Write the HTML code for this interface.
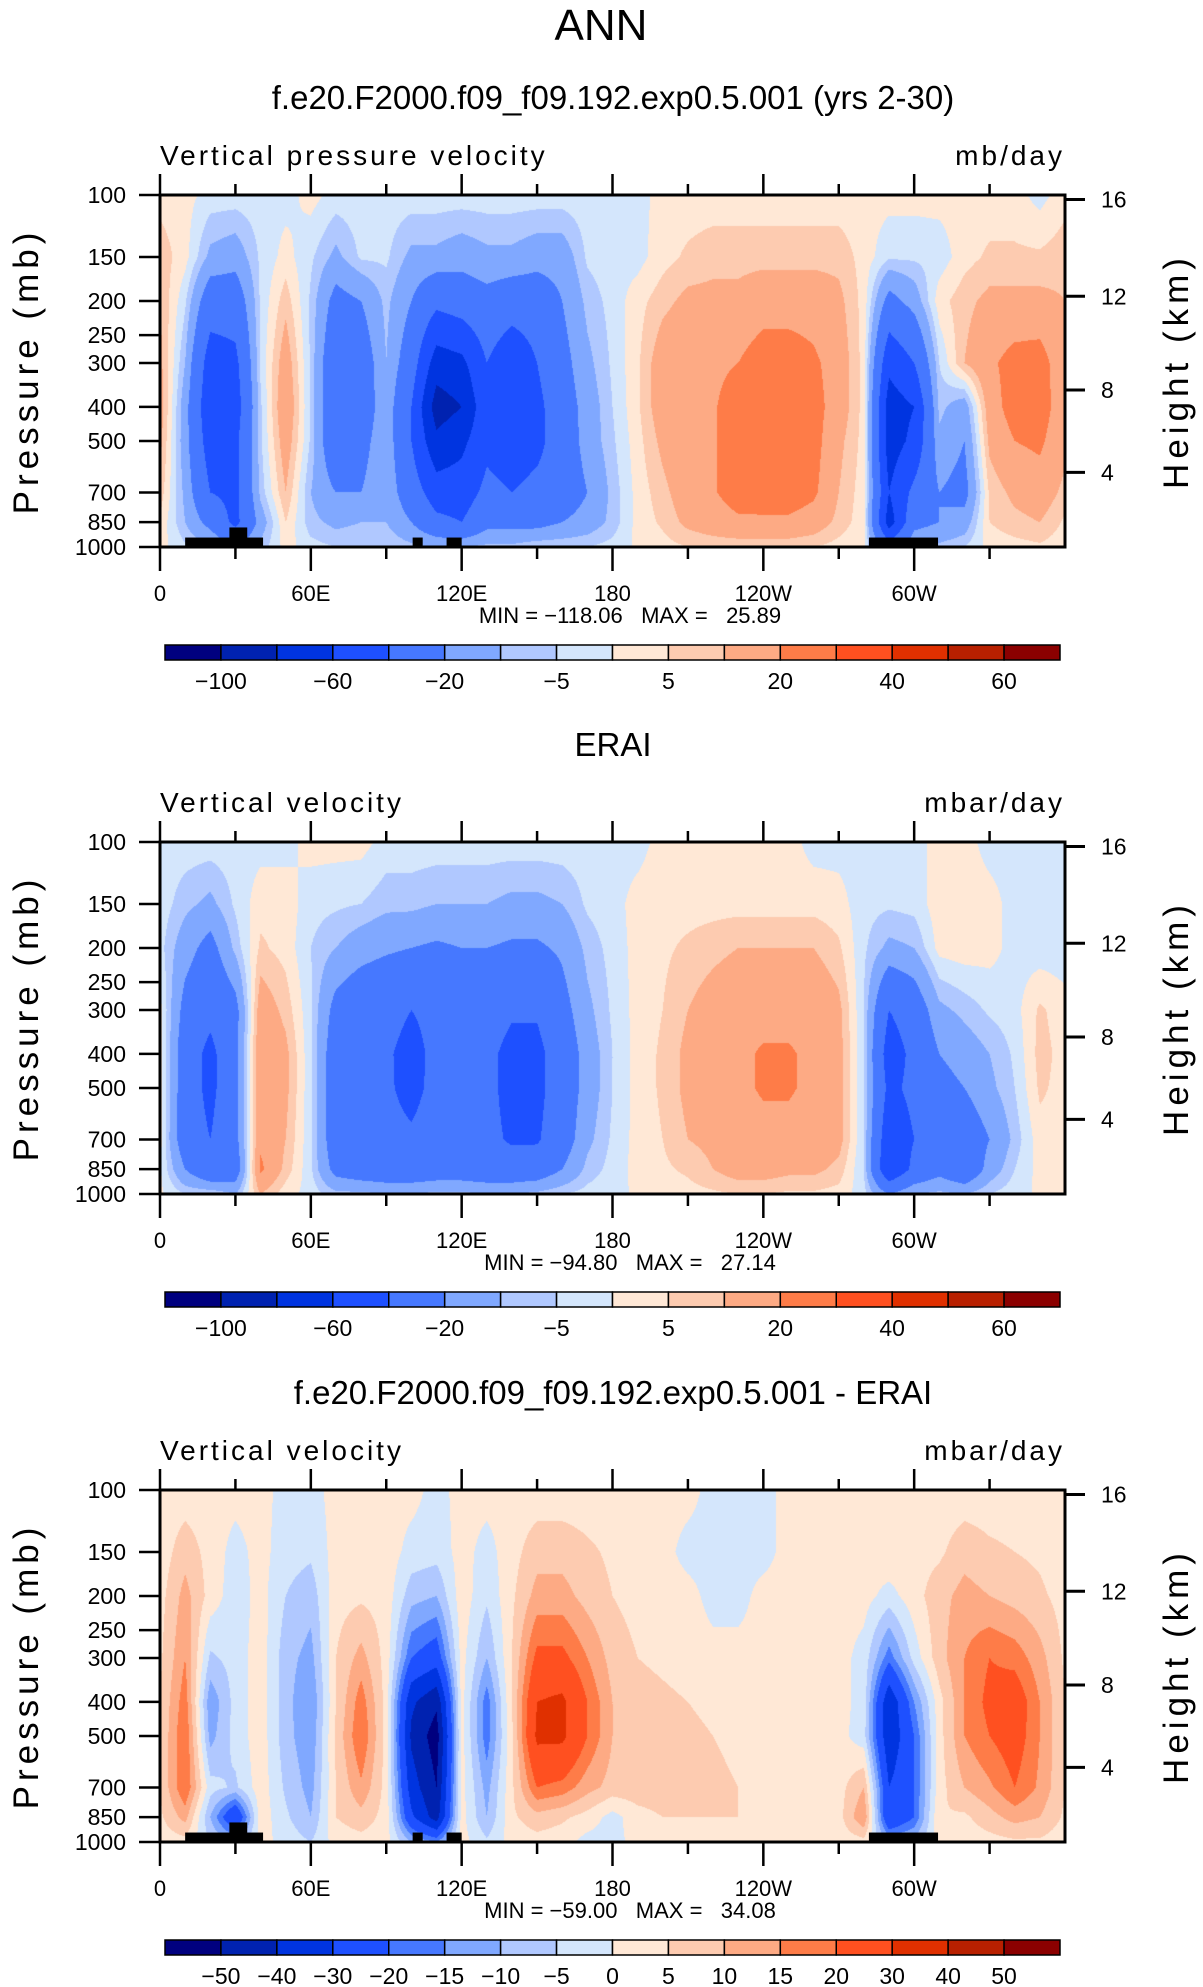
<!DOCTYPE html>
<html><head><meta charset="utf-8"><style>
body{margin:0;background:#fff}
#wrap{position:relative;width:1203px;height:1987px;overflow:hidden;background:#fff}
canvas{position:absolute}
svg{position:absolute;left:0;top:0}
text{font-family:"Liberation Sans",sans-serif;fill:#000}
</style></head><body>
<div id="wrap">
<canvas id="c0" width="905" height="352" style="left:160px;top:195px"></canvas>
<canvas id="c1" width="905" height="352" style="left:160px;top:842px"></canvas>
<canvas id="c2" width="905" height="352" style="left:160px;top:1490px"></canvas>
<svg id="ov" width="1203" height="1987"></svg>
</div>
<script>
const LON=[0,10,20,30,40,50,60,70,80,90,100,110,120,130,140,150,160,170,180,190,200,210,220,230,240,250,260,270,280,290,300,310,320,330,340,350,360];
const PLEV=[100,150,200,300,400,500,700,850,1000];
const PTICKS=[100,150,200,250,300,400,500,700,850,1000];
const HTICK_LABELS=[16,12,8,4];
const HTICK_P=[103,194,358,614];
const XTICK_LON=[0,60,120,180,240,300];
const XTICK_LABELS=["0","60E","120E","180","120W","60W"];
const COLORS=["#00007f","#0022b0","#0034e0","#1e50ff","#4678ff","#80a8ff","#b0c8ff","#d4e6fc","#ffe8d6","#fdcbb0","#fdaa84","#fe7c48","#ff5020","#e03000","#b82000","#8b0000"];
const LEVELS_AB=[-100,-80,-60,-40,-20,-10,-5,0,5,10,20,30,40,50,60];
const CB_LABELS_AB=["-100","","-60","","-20","","-5","","5","","20","","40","","60"];
const LEVELS_D=[-50,-40,-30,-20,-15,-10,-5,0,5,10,15,20,30,40,50];
const CB_LABELS_D=["-50","-40","-30","-20","-15","-10","-5","0","5","10","15","20","30","40","50"];
const MODEL=[
[3,2,-2,-2,-2,-2,2,-2,-2,-2,-2,-2,-2,-2,-2,-2,-2,-2,-2,-2,2,2,2,2,2,2,2,2,2,2,2,2,2,2,2,-2,3],
[8,2,-12,-15,-4,2,-4,-12,-4,-4,-12,-12,-15,-12,-12,-15,-15,-4,-2,-2,3,6,8,8,8,8,8,8,3,-4,-4,-3,3,6,6,6,8],
[10,-4,-30,-30,-4,8,-6,-25,-20,-8,-20,-35,-30,-25,-30,-30,-20,-8,-3,3,8,12,12,12,15,15,15,12,3,-25,-15,3,8,12,12,12,10],
[12,-10,-50,-45,-4,15,-6,-35,-30,-10,-30,-70,-65,-40,-55,-40,-25,-12,-4,4,15,18,18,20,26,26,22,15,3,-55,-40,-5,10,18,24,25,12],
[14,-15,-55,-50,-6,18,-6,-35,-30,-12,-40,-90,-80,-45,-60,-45,-28,-15,-5,4,15,18,19,25,27,27,24,15,3,-70,-60,-8,-15,15,25,25,14],
[12,-15,-50,-45,-6,15,-6,-35,-25,-12,-40,-75,-65,-45,-50,-45,-30,-15,-6,3,12,18,19,26,27,27,24,12,3,-70,-55,-12,-20,12,20,22,12],
[8,-12,-40,-45,-8,10,-10,-20,-20,-12,-30,-50,-50,-35,-40,-35,-30,-20,-8,2,8,15,19,25,26,26,22,10,2,-60,-35,-20,-25,6,12,15,8],
[4,-10,-25,-45,-15,5,-8,-12,-10,-10,-20,-35,-40,-25,-25,-25,-20,-15,-8,2,6,12,15,18,18,18,15,8,2,-70,-25,-20,-15,5,8,10,4],
[2,-4,-8,-20,-8,2,-3,-5,-5,-5,-8,-10,-10,-8,-8,-5,-5,-5,-3,1,3,5,6,6,6,6,5,3,1,-30,-10,-8,-5,2,3,4,2]];
const ERAI=[
[-2,-2,-2,-2,-2,-2,2,2,2,-2,-2,-2,-2,-2,-2,-2,-2,-2,-2,-2,2,2,2,2,2,2,-2,-2,-2,-2,-2,2,2,-2,-2,-2,-2],
[-2,-8,-12,-4,3,3,-3,-4,-5,-8,-8,-10,-10,-10,-12,-12,-10,-4,-2,2,3,3,3,3,3,3,3,2,-3,-4,-3,3,3,2,-2,-2,-2],
[-3,-15,-25,-8,6,3,-5,-10,-15,-18,-20,-22,-20,-20,-22,-22,-18,-8,-3,2,4,6,8,10,10,10,10,6,-4,-12,-10,2,3,2,-2,-3,-3],
[2,-25,-35,-25,15,8,-4,-25,-32,-35,-40,-36,-32,-32,-38,-38,-25,-12,-4,2,5,10,14,17,17,17,17,12,-5,-40,-30,-12,-8,-4,-2,6,2],
[3,-30,-45,-25,18,12,-4,-30,-35,-38,-45,-36,-34,-36,-45,-45,-30,-15,-5,2,6,12,15,18,21,21,18,13,-5,-50,-35,-20,-15,-10,-4,7,3],
[3,-30,-45,-25,18,12,-4,-30,-35,-38,-44,-36,-34,-36,-45,-45,-30,-15,-5,2,6,12,15,18,21,21,18,13,-5,-45,-35,-25,-20,-12,-5,6,3],
[2,-30,-40,-25,18,10,-4,-30,-34,-36,-38,-34,-34,-36,-42,-42,-28,-12,-4,2,5,10,12,16,17,17,16,13,-5,-55,-40,-30,-30,-20,-8,3,2],
[1,-20,-35,-30,22,8,-4,-25,-30,-32,-32,-30,-30,-32,-32,-30,-20,-8,-3,2,4,6,10,14,14,12,12,8,-5,-60,-35,-25,-35,-15,-5,2,1],
[1,-5,-5,-10,10,2,-2,-8,-8,-10,-10,-8,-8,-10,-10,-8,-5,-3,-2,1,2,3,4,5,5,4,4,3,-3,-20,-10,-8,-10,-5,-2,1,1]];
const DIFF=[
[2,2,2,2,2,-2,-2,2,2,2,2,-2,2,2,2,2,2,2,2,2,2,2,-2,-2,-2,2,2,2,2,2,2,2,2,2,2,2,2],
[2,8,3,-2,2,-3,-4,2,2,3,-2,-3,2,-2,3,8,8,6,4,3,2,-2,-2,-2,-2,2,2,2,2,4,3,4,8,6,5,4,2],
[3,12,3,-3,2,-5,-8,3,4,3,-8,-10,3,-4,4,12,12,8,5,3,3,2,-2,-2,2,2,2,2,2,-2,3,8,12,10,8,6,3],
[4,15,-6,-3,3,-8,-12,5,12,3,-20,-25,2,-10,5,22,22,15,8,5,4,3,2,2,2,2,2,2,-2,-18,-3,8,15,20,18,12,4],
[5,18,-14,-3,3,-8,-15,5,18,3,-38,-48,2,-18,5,30,32,20,10,7,6,5,4,3,3,3,2,2,-2,-38,-15,3,15,22,25,15,5],
[5,20,-12,-3,3,-8,-14,6,20,3,-42,-55,2,-18,4,32,32,20,10,8,7,6,5,4,4,3,3,2,-3,-38,-20,3,15,20,24,15,5],
[5,20,-3,-6,3,-6,-12,5,14,3,-35,-50,2,-12,4,20,18,12,8,8,8,8,6,5,5,5,4,3,10,-30,-20,3,10,14,20,14,5],
[4,12,-10,-30,3,-4,-10,5,8,3,-28,-45,2,-10,4,8,6,3,-2,3,5,5,5,5,4,4,3,3,15,-30,-20,5,4,8,12,10,4],
[2,3,-5,-10,2,-2,-5,2,3,2,-10,-15,2,-4,2,3,2,-2,-2,2,2,2,2,2,2,2,2,2,3,-10,-8,2,2,3,4,4,2]];
const LAND_LON0=[10,27.6,100.5,114,282];
const LAND_LON1=[41,34.7,104.5,120,309.5];
const LAND_PTOP=[940,880,940,940,940];

const L=160,W=905,H=352;
const PANELS=[
 {top:195,cv:"c0",data:MODEL,levels:LEVELS_AB,cbl:CB_LABELS_AB,title:"f.e20.F2000.f09_f09.192.exp0.5.001 (yrs 2-30)",sub:"Vertical pressure velocity",unit:"mb/day",minmax:"MIN = \u2212118.06   MAX =   25.89",land:true,key:"model"},
 {top:842,cv:"c1",data:ERAI,levels:LEVELS_AB,cbl:CB_LABELS_AB,title:"ERAI",sub:"Vertical velocity",unit:"mbar/day",minmax:"MIN = \u221294.80   MAX =   27.14",land:false,key:"erai"},
 {top:1490,cv:"c2",data:DIFF,levels:LEVELS_D,cbl:CB_LABELS_D,title:"f.e20.F2000.f09_f09.192.exp0.5.001 - ERAI",sub:"Vertical velocity",unit:"mbar/day",minmax:"MIN = \u221259.00   MAX =   34.08",land:true,key:"diff"}];

function xScale(lon){return L+lon/360*W;}
function yScale(p,top){return top+(Math.log10(p)-2)*H;}
function sample(g,lon,p){
 let i=Math.min(LON.length-2,Math.floor(lon/10));let t=(lon-LON[i])/10;
 let lp=Math.log10(p);let j=0;while(j<PLEV.length-2&&p>PLEV[j+1])j++;
 let a=Math.log10(PLEV[j]),b=Math.log10(PLEV[j+1]);let s=(lp-a)/(b-a);
 const v0=g[j][i]*(1-t)+g[j][i+1]*t, v1=g[j+1][i]*(1-t)+g[j+1][i+1]*t;
 return v0*(1-s)+v1*s;}
function colorIdx(v,lev){let k=0;while(k<lev.length&&v>=lev[k])k++;return k;}
function hex(c){return [parseInt(c.substr(1,2),16),parseInt(c.substr(3,2),16),parseInt(c.substr(5,2),16)];}
const RGB=COLORS.map(hex);
const NS="http://www.w3.org/2000/svg";const ov=document.getElementById("ov");
function mk(tag,attrs,txt){const e=document.createElementNS(NS,tag);for(const k in attrs)e.setAttribute(k,attrs[k]);if(txt!==undefined)e.textContent=txt;ov.appendChild(e);return e;}

let e=mk("text",{x:601,y:40,"font-size":44,"text-anchor":"middle","font-weight":"300"},"ANN");



PANELS.forEach(P=>{
 const cv=document.getElementById(P.cv),ctx=cv.getContext("2d"),img=ctx.createImageData(W,H);
 for(let y=0;y<H;y++){const p=Math.pow(10,2+(y+0.5)/H);
  for(let x=0;x<W;x++){const lon=(x+0.5)/W*360;const c=RGB[colorIdx(sample(P.data,lon,p),P.levels)];
   const o=(y*W+x)*4;img.data[o]=c[0];img.data[o+1]=c[1];img.data[o+2]=c[2];img.data[o+3]=255;}}
 ctx.putImageData(img,0,0);
 const T=P.top,B=T+H;
 if(P.land){for(let k=0;k<LAND_LON0.length;k++){
  const x0=xScale(LAND_LON0[k]),x1=xScale(LAND_LON1[k]),y0=yScale(LAND_PTOP[k],T);
  let r=mk("rect",{x:x0,y:y0,width:x1-x0,height:B-y0,fill:"#000"});
  
  }}
 let fr=mk("rect",{x:L,y:T,width:W,height:H,fill:"none",stroke:"#000","stroke-width":3});
 
 
 for(let lon=0;lon<=330;lon+=30){const x=xScale(lon),maj=lon%60===0;
  mk("line",{x1:x,x2:x,y1:T,y2:T-(maj?21:11),stroke:"#000","stroke-width":2.5});
  mk("line",{x1:x,x2:x,y1:B,y2:B+(maj?24:12),stroke:"#000","stroke-width":2.5});}
 XTICK_LON.forEach((lon,i)=>{let t=mk("text",{x:xScale(lon),y:B+54,"font-size":22,"text-anchor":"middle"},XTICK_LABELS[i]);
  
  });
 PTICKS.forEach(p=>{const y=yScale(p,T);mk("line",{x1:L-21,x2:L,y1:y,y2:y,stroke:"#000","stroke-width":2.5});
  let t=mk("text",{x:L-34,y:y+8,"font-size":23,"text-anchor":"end"},String(p));
  
  });
 HTICK_P.forEach((p,i)=>{const y=yScale(p,T);mk("line",{x1:L+W,x2:L+W+20,y1:y,y2:y,stroke:"#000","stroke-width":3});
  let t=mk("text",{x:L+W+36,y:y+8,"font-size":23},String(HTICK_LABELS[i]));
  
  });
 const yc=T+H/2;
 let pl=mk("text",{x:0,y:0,"font-size":35,"text-anchor":"middle","letter-spacing":"5",transform:`translate(38,${yc}) rotate(-90)`},"Pressure (mb)");
 
 
 let hl=mk("text",{x:0,y:0,"font-size":35,"text-anchor":"middle","letter-spacing":"5",transform:`translate(1188,${yc}) rotate(-90)`},"Height (km)");
 
 
 let ti=mk("text",{x:613,y:T-86,"font-size":33,"text-anchor":"middle"},P.title);
 
 
 let su=mk("text",{x:L,y:T-30,"font-size":28,"letter-spacing":"3"},P.sub);
 
 
 let un=mk("text",{x:L+W,y:T-30,"font-size":28,"text-anchor":"end","letter-spacing":"3"},P.unit);
 
 
 let mm=mk("text",{x:630,y:B+76,"font-size":22,"text-anchor":"middle",style:"white-space:pre"},P.minmax);
 
 
 const cbT=B+98,cbW=(1060-165)/16;
 COLORS.forEach((c,i)=>{let r=mk("rect",{x:165+i*cbW,y:cbT,width:cbW,height:15,fill:c,stroke:"#000","stroke-width":1.5});
  
  });
 P.cbl.forEach((s,i)=>{if(!s)return;let t=mk("text",{x:165+(i+1)*cbW,y:cbT+44,"font-size":23,"text-anchor":"middle"},s.replace("-","\u2212"));
  
  });
});
</script>
</body></html>
